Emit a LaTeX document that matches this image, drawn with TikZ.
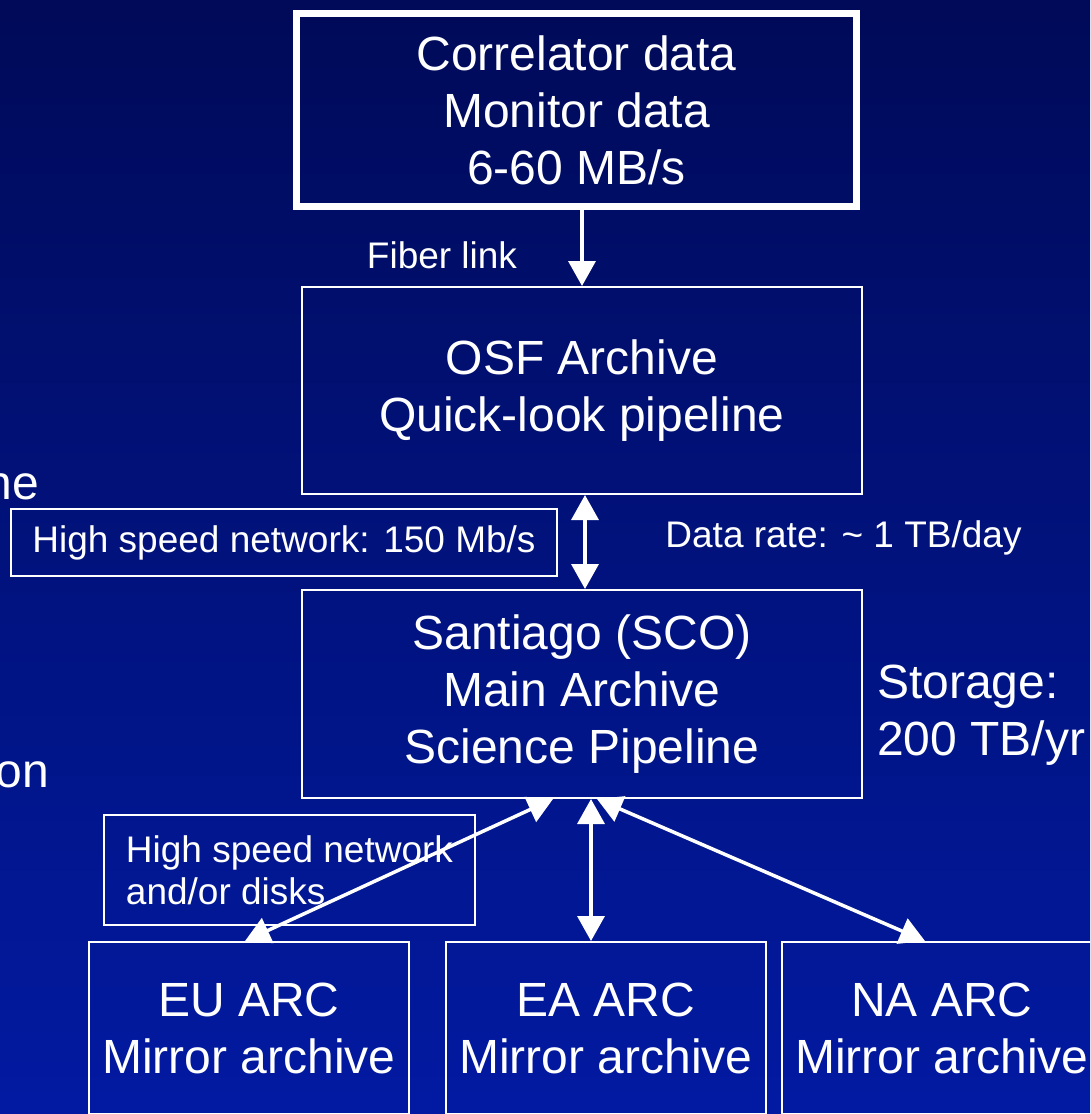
\documentclass[tikz,border=0pt]{standalone}
\usepackage{fontspec}
\setmainfont{Liberation Sans}
\usetikzlibrary{arrows.meta,calc}

\definecolor{bgtop}{RGB}{0,10,88}
\definecolor{bgbottom}{RGB}{2,26,162}

\tikzset{
  big/.style={font=\fontsize{48}{57}\selectfont, text=white},
  small/.style={font=\fontsize{37}{42}\selectfont, text=white},
  thinbox/.style={draw=white, line width=2pt, inner sep=0pt, align=center},
  thickbox/.style={draw=white, line width=7pt, inner sep=0pt, align=center},
  link/.style={draw=white, line width=3.5pt,
    -{Triangle[width=27pt,length=25pt]}},
  dlink/.style={draw=white, line width=3.5pt,
    {Triangle[width=27pt,length=25pt]}-{Triangle[width=27pt,length=25pt]}},
}

\begin{document}
\begin{tikzpicture}[x=1pt, y=-1pt]
  % page frame and background
  \useasboundingbox (0,0) rectangle (1090,1114);
  \clip (0,0) rectangle (1090,1114);
  \shade[top color=bgtop, bottom color=bgbottom] (0,0) rectangle (1090,1114);

  % fragments of text running in from the left
  \node[big, anchor=east, inner sep=0pt] (frag1) at (39,487) {ne};
  \node[big, anchor=east, inner sep=0pt] (frag2) at (49,775) {on};

  % main chain of boxes
  \node[thickbox, big, minimum width=560, minimum height=193] (corr) at (576.5,110)
    {Correlator data\\Monitor data\\6-60 MB/s};
  \node[thinbox, big, minimum width=560, minimum height=207] (osf) at (582,390.5)
    {OSF Archive\\Quick-look pipeline};
  \node[thinbox, big, minimum width=560, minimum height=208] (sco) at (582,694)
    {Santiago (SCO)\\Main Archive\\Science Pipeline};

  % regional centres
  \node[thinbox, big, minimum width=320, minimum height=172] (eu) at (249,1028)
    {EU ARC\\Mirror archive};
  \node[thinbox, big, minimum width=320, minimum height=172] (ea) at (606,1028)
    {EA ARC\\Mirror archive};
  \node[thinbox, big, minimum width=320, minimum height=172] (na) at (942,1028)
    {NA ARC\\Mirror archive};

  % labels
  \node[small] (fiber) at (442,255) {Fiber link};
  \node[thinbox, small, minimum width=546, minimum height=67] (hsn) at (284,542.5)
    {High speed network: 150 Mb/s};
  \node[small] (rate) at (843.5,538) {Data rate: \char`\~{} 1 TB/day};
  \node[big, anchor=west, align=left, inner sep=0pt] (storage) at (877,715)
    {Storage:\\200 TB/yr};
  \node[thinbox, small, align=left, minimum width=371, minimum height=110]
    (disks) at (289.5,870)
    {High speed network\\and/or disks};

  % connectors
  \draw[link] (corr.south -| osf.north) -- (osf.north);
  \draw[dlink] ($(osf.south)+(3,0)$) -- ($(sco.north)+(3,0)$);
  \draw[dlink] ($(sco.south)+(-29,0)$) -- ($(eu.north)+(-4,0)$);
  \draw[dlink] ($(sco.south)+(9,0)$) -- ($(ea.north)+(-15,0)$);
  \draw[dlink] ($(sco.south)+(15,0)$) -- ($(na.north)+(-17,0)$);
\end{tikzpicture}
\end{document}
